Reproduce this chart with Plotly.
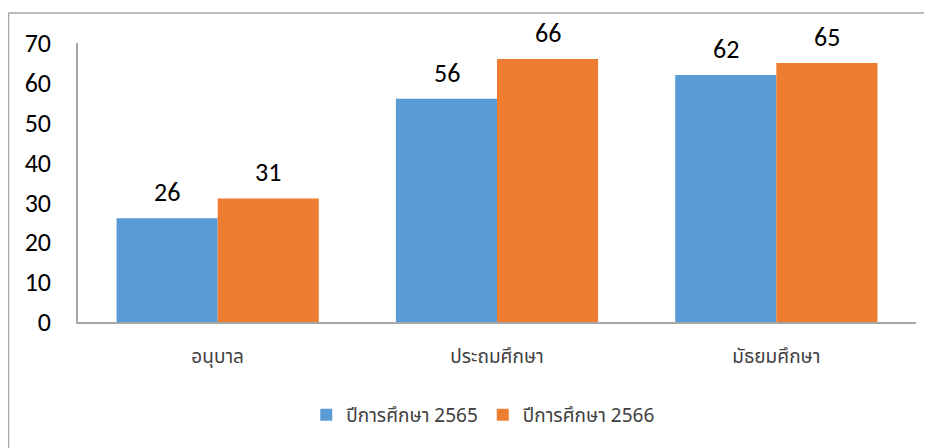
import plotly.graph_objects as go

categories = ["อนุบาล", "ประถมศึกษา", "มัธยมศึกษา"]
series_names = ["ปีการศึกษา 2565", "ปีการศึกษา 2566"]
values_2565 = [26, 56, 62]
values_2566 = [31, 66, 65]
colors = ["#5B9BD5", "#ED7D31"]
y_ticks = [0, 10, 20, 30, 40, 50, 60, 70]

NUM_FONT = "Carlito, Liberation Sans Narrow, Open Sans, sans-serif"
THAI_FONT = "Tahoma, Noto Sans Thai, Noto Sans, sans-serif"

# page body has an 8px margin: plot area on screen spans x 78..916, y 43..322
L, T, PW, PH = 70, 35, 838, 279

fig = go.Figure()
for name, vals, col in zip(series_names, [values_2565, values_2566], colors):
    fig.add_trace(go.Bar(
        x=categories, y=vals, name=name,
        marker=dict(color=col, line=dict(width=0)),
    ))

annotations = []
for vals, shift in [(values_2565, -50.5), (values_2566, 50.5)]:
    for c, v in zip(categories, vals):
        annotations.append(dict(
            x=c, y=v, xref="x", yref="y", text=str(v), showarrow=False,
            xshift=shift, yshift=8, yanchor="bottom",
            font=dict(family=NUM_FONT, size=26, color="#000000"),
        ))

border_x = (0.5 - L) / PW
border_y = (T - 5) / PH + 1

fig.update_layout(
    width=932, height=448,
    margin=dict(l=L, r=932 - L - PW, t=T, b=448 - T - PH),
    paper_bgcolor="white", plot_bgcolor="white",
    barmode="group", bargap=0.276, bargroupgap=0,
    showlegend=True,
    legend=dict(
        orientation="h", x=0.483, xanchor="center", y=-0.333, yanchor="middle",
        font=dict(family=THAI_FONT, size=19, color="#404040"),
        itemwidth=30, traceorder="normal",
    ),
    annotations=annotations,
    xaxis=dict(
        showline=True, linecolor="#A6A6A6", linewidth=1.5,
        showgrid=False, ticks="", ticklabelstandoff=16,
        tickfont=dict(family=THAI_FONT, size=19, color="#404040"),
    ),
    yaxis=dict(
        range=[0, 70], tickvals=y_ticks,
        showline=True, linecolor="#A6A6A6", linewidth=1.5,
        showgrid=False, zeroline=False, ticks="", ticklabelstandoff=20,
        tickfont=dict(family=NUM_FONT, size=26, color="#000000"),
    ),
    shapes=[
        dict(type="line", xref="paper", yref="paper",
             x0=border_x, x1=1.2, y0=border_y, y1=border_y,
             line=dict(color="#A6A6A6", width=1.5)),
        dict(type="line", xref="paper", yref="paper",
             x0=border_x, x1=border_x, y0=border_y, y1=-0.7,
             line=dict(color="#A6A6A6", width=1.5)),
    ],
)

fig.write_html("out.html")
